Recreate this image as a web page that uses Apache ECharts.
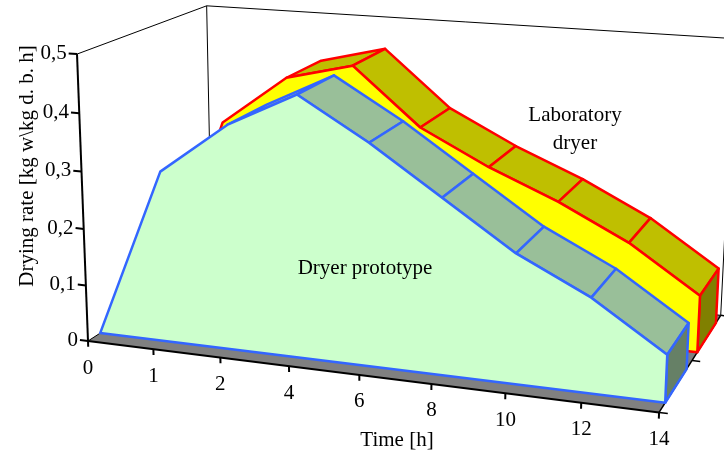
<!DOCTYPE html>
<html>
<head>
<meta charset="utf-8">
<script src="https://cdn.jsdelivr.net/npm/echarts@6/dist/echarts.min.js"></script>
<style>
  html, body { margin: 0; padding: 0; background: #ffffff; }
  #chart { width: 724px; height: 452px; }
</style>
</head>
<body>
<div id="chart"></div>
<script>
// Drying time categories [h]
const timeLabels = ['0', '1', '2', '4', '6', '8', '10', '12', '14'];
// Drying rate [kg water / kg dry basis / h]
const prototypeRate = [0, 0.30, 0.39, 0.45, 0.38, 0.30, 0.22, 0.16, 0.08];
const laboratoryRate = [0, 0.33, 0.42, 0.45, 0.35, 0.29, 0.24, 0.18, 0.10];
// Value axis ticks
const rateTicks = [0, 0.1, 0.2, 0.3, 0.4, 0.5];
const rateTickLabels = ['0', '0,1', '0,2', '0,3', '0,4', '0,5'];
const seriesNames = ['Dryer prototype', 'Laboratory dryer'];

// Perspective camera for the 3-D area plot
const VIEW = {
  cx: 362, cy: 226,          // principal point
  focal: 2030,               // focal length in px
  yaw: 20.2, pitch: 15.6,    // rotation in degrees
  originX: 88, originY: 341, // where the front-left floor corner lands
  originDist: 2030,
  depth: 300.7,              // floor depth in world units
  gapRatio: 0.54             // gap depth between series rows
};
const FONT = 'Liberation Serif';
const FONT_SIZE = 21;
const COLORS = {
  prototype: { face: '#CCFFCC', top: '#99BF99', side: '#668066', line: '#3366FF' },
  laboratory: { face: '#FFFF00', top: '#BFBF00', side: '#808000', line: '#FF0000' }
};

const rad = Math.PI / 180;
const ca = Math.cos(VIEW.yaw * rad), sa = Math.sin(VIEW.yaw * rad);
const cp = Math.cos(VIEW.pitch * rad), sp = Math.sin(VIEW.pitch * rad);
const ex = [ca, sa * sp, -sa * cp];   // time direction
const ey = [0, -cp, -sp];             // value direction (up)
const ez = [sa, -ca * sp, ca * cp];   // depth direction (back)
const origin = [
  (VIEW.originX - VIEW.cx) * VIEW.originDist / VIEW.focal,
  (VIEW.originY - VIEW.cy) * VIEW.originDist / VIEW.focal,
  VIEW.originDist
];

function project(X, Y, Z) {
  const x = origin[0] + X * ex[0] + Y * ey[0] + Z * ez[0];
  const y = origin[1] + X * ex[1] + Y * ey[1] + Z * ez[1];
  const z = origin[2] + X * ex[2] + Y * ey[2] + Z * ez[2];
  return [VIEW.cx + VIEW.focal * x / z, VIEW.cy + VIEW.focal * y / z];
}

function signedArea(pts) {
  let s = 0;
  for (let k = 0; k < pts.length; k++) {
    const a = pts[k], b = pts[(k + 1) % pts.length];
    s += a[0] * b[1] - b[0] * a[1];
  }
  return s / 2;
}

// Map a (category, value) pair through the grid scales into floor-plane world units
function worldOf(params, api, cat, val) {
  const p = api.coord([cat, val]);
  const cs = params.coordSys;
  return [p[0] - cs.x, cs.y + cs.height - p[1]];
}

function slotRange(slot) {
  const slotDepth = VIEW.depth / 2;
  const thick = slotDepth / (1 + VIEW.gapRatio);
  const z0 = slot * slotDepth + (slotDepth - thick) / 2;
  return [z0, z0 + thick];
}

// Floor, wall outlines and the depth axis
function renderFrame(params, api) {
  const o = worldOf(params, api, 0, 0);
  const e = worldOf(params, api, timeLabels.length - 1, rateTicks[rateTicks.length - 1]);
  const W = e[0], H = e[1], D = VIEW.depth;
  const line = { stroke: '#000', lineWidth: 1, fill: null };
  const children = [
    { type: 'polygon', shape: { points: [project(o[0], 0, 0), project(W, 0, 0), project(W, 0, D), project(o[0], 0, D)] },
      style: { fill: '#808080' } },
    { type: 'polyline', shape: { points: [project(0, 0, 0), project(0, 0, D), project(0, H, D), project(0, H, 0)] }, style: line },
    { type: 'polyline', shape: { points: [project(0, H, D), project(W, H, D), project(W, 0, D), project(0, 0, D)] }, style: line },
    { type: 'line', shape: { x1: project(W, 0, 0)[0], y1: project(W, 0, 0)[1], x2: project(W, 0, D)[0], y2: project(W, 0, D)[1] },
      style: { stroke: '#000', lineWidth: 1.5 } }
  ];
  [0, D / 2, D].forEach(function (z) {
    const a = project(W, 0, z), b = project(W + 8, 0, z);
    children.push({ type: 'line', shape: { x1: a[0], y1: a[1], x2: b[0], y2: b[1] }, style: { stroke: '#000', lineWidth: 1.5 } });
  });
  return { type: 'group', children: children };
}

function areaRenderer(values, slot, col) {
  return function (params, api) {
    const i = params.dataIndex;
    const n = values.length;
    const zr = slotRange(slot), z0 = zr[0], z1 = zr[1];
    const children = [];
    const stroke = { stroke: col.line, lineWidth: 2.5, lineJoin: 'round' };
    if (i < n - 1) {
      const a = worldOf(params, api, i, api.value(1));
      const b = worldOf(params, api, i + 1, values[i + 1]);
      const quad = [project(a[0], a[1], z0), project(b[0], b[1], z0), project(b[0], b[1], z1), project(a[0], a[1], z1)];
      if (signedArea(quad) < 0) {
        children.push({ type: 'polygon', z2: 1, shape: { points: quad },
          style: Object.assign({ fill: col.top }, stroke) });
      }
    }
    if (i === n - 1) {
      const a = worldOf(params, api, i, api.value(1));
      const quad = [project(a[0], 0, z0), project(a[0], a[1], z0), project(a[0], a[1], z1), project(a[0], 0, z1)];
      children.push({ type: 'polygon', z2: 2, shape: { points: quad },
        style: Object.assign({ fill: col.side }, stroke) });
    }
    if (i === 0) {
      const pts = [];
      values.forEach(function (v, k) {
        const w = worldOf(params, api, k, v);
        pts.push(project(w[0], w[1], z0));
      });
      const last = worldOf(params, api, n - 1, 0);
      const first = worldOf(params, api, 0, 0);
      pts.push(project(last[0], 0, z0));
      pts.push(project(first[0], 0, z0));
      children.push({ type: 'polygon', z2: 3, shape: { points: pts },
        style: Object.assign({ fill: col.face }, stroke) });
    }
    return { type: 'group', children: children };
  };
}

// Value axis: line, ticks and labels on the front-left edge
function renderValueAxis(params, api) {
  const i = params.dataIndex;
  const w = worldOf(params, api, 0, api.value(0));
  const children = [];
  if (i === 0) {
    const top = worldOf(params, api, 0, rateTicks[rateTicks.length - 1]);
    const a = project(0, 0, 0), b = project(0, top[1], 0);
    children.push({ type: 'line', shape: { x1: a[0], y1: a[1], x2: b[0], y2: b[1] }, style: { stroke: '#000', lineWidth: 2 } });
  }
  const p = project(0, w[1], 0), q = project(-9, w[1], 0);
  children.push({ type: 'line', shape: { x1: p[0], y1: p[1], x2: q[0], y2: q[1] }, style: { stroke: '#000', lineWidth: 2 } });
  children.push({ type: 'text', style: { text: rateTickLabels[i], x: q[0] - 2, y: q[1],
    align: 'right', verticalAlign: 'middle', fontFamily: FONT, fontSize: FONT_SIZE, fill: '#000' } });
  return { type: 'group', children: children };
}

// Time axis: line, ticks and labels on the front floor edge
function renderTimeAxis(params, api) {
  const i = params.dataIndex;
  const w = worldOf(params, api, i, 0);
  const children = [];
  if (i === 0) {
    const end = worldOf(params, api, timeLabels.length - 1, 0);
    const a = project(0, 0, 0), b = project(end[0], 0, 0);
    children.push({ type: 'line', shape: { x1: a[0], y1: a[1], x2: b[0], y2: b[1] }, style: { stroke: '#000', lineWidth: 2 } });
  }
  const p = project(w[0], 0, 0), q = project(w[0], -6, 0);
  children.push({ type: 'line', shape: { x1: p[0], y1: p[1], x2: q[0], y2: q[1] }, style: { stroke: '#000', lineWidth: 2 } });
  children.push({ type: 'text', style: { text: timeLabels[i], x: p[0], y: p[1] + 27,
    align: 'center', verticalAlign: 'middle', fontFamily: FONT, fontSize: FONT_SIZE, fill: '#000' } });
  return { type: 'group', children: children };
}

const chart = echarts.init(document.getElementById('chart'), null, { renderer: 'canvas' });
const textStyle = { fontFamily: FONT, fontSize: FONT_SIZE, fill: '#000', align: 'center', verticalAlign: 'middle' };

chart.setOption({
  animation: false,
  backgroundColor: '#ffffff',
  grid: { left: 0, top: 0, width: 578.5, height: 291, show: false },
  xAxis: { type: 'category', data: timeLabels, boundaryGap: false, show: false },
  yAxis: { type: 'value', min: 0, max: 0.5, interval: 0.1, show: false },
  graphic: [
    { type: 'text', z: 100, x: 27, y: 166, rotation: Math.PI / 2,
      style: Object.assign({ text: 'Drying rate [kg w\\kg d. b. h]' }, textStyle) },
    { type: 'text', z: 100, x: 397, y: 440, style: Object.assign({ text: 'Time [h]' }, textStyle) },
    { type: 'text', z: 100, x: 365, y: 268, style: Object.assign({ text: seriesNames[0] }, textStyle) },
    { type: 'text', z: 100, x: 575, y: 129,
      style: Object.assign({ text: 'Laboratory\ndryer', lineHeight: 28 }, textStyle) }
  ],
  series: [
    { type: 'custom', name: 'frame', z: 1, data: [[0, 0]], renderItem: renderFrame, silent: true },
    { type: 'custom', name: seriesNames[1], z: 2,
      data: laboratoryRate.map(function (v, i) { return [i, v]; }),
      encode: { x: 0, y: 1 }, renderItem: areaRenderer(laboratoryRate, 1, COLORS.laboratory), silent: true },
    { type: 'custom', name: seriesNames[0], z: 3,
      data: prototypeRate.map(function (v, i) { return [i, v]; }),
      encode: { x: 0, y: 1 }, renderItem: areaRenderer(prototypeRate, 0, COLORS.prototype), silent: true },
    { type: 'custom', name: 'value axis', z: 4,
      data: rateTicks.map(function (v) { return [0, v]; }),
      encode: { x: 0, y: 1 },
      renderItem: function (params, api) { return renderValueAxis(params, { coord: api.coord, value: function () { return api.value(1); } }); },
      silent: true },
    { type: 'custom', name: 'time axis', z: 4,
      data: timeLabels.map(function (t, i) { return [i, 0]; }),
      encode: { x: 0, y: 1 }, renderItem: renderTimeAxis, silent: true }
  ]
});
</script>
</body>
</html>
